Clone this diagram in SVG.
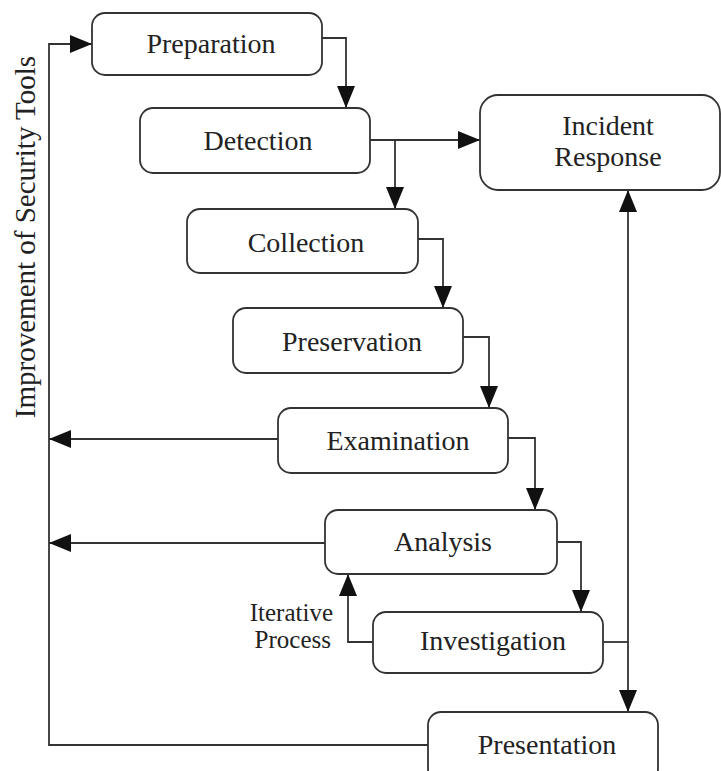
<svg xmlns="http://www.w3.org/2000/svg" width="721" height="771" viewBox="0 0 721 771">
<style>
.box{fill:#fff;stroke:#333;stroke-width:1.8}
.lbl{font-family:"Liberation Serif","Times New Roman",serif;font-size:28px;fill:#222;text-anchor:middle}
.note{font-family:"Liberation Serif","Times New Roman",serif;font-size:25px;fill:#222;text-anchor:end}
.side{font-family:"Liberation Serif","Times New Roman",serif;font-size:29px;fill:#222}
.c{fill:none;stroke:#333;stroke-width:1.8}
</style>
<defs>
<marker id="ah" markerUnits="userSpaceOnUse" markerWidth="22" markerHeight="18" refX="22" refY="9" orient="auto">
<path d="M0,0 L22,9 L0,18 Z" fill="#111"/>
</marker>
</defs>
<rect width="721" height="771" fill="#fff"/>
<g id="connectors">
<path class="c" d="M322,38 H346 V108" marker-end="url(#ah)"/>
<path class="c" d="M370,140 H480" marker-end="url(#ah)"/>
<path class="c" d="M395,140 V209" marker-end="url(#ah)"/>
<path class="c" d="M418,239 H443 V308" marker-end="url(#ah)"/>
<path class="c" d="M463,337 H489 V408" marker-end="url(#ah)"/>
<path class="c" d="M508,438 H535 V510" marker-end="url(#ah)"/>
<path class="c" d="M557,542 H581 V612" marker-end="url(#ah)"/>
<path class="c" d="M373,642 H348 V574" marker-end="url(#ah)"/>
<path class="c" d="M603,642 H628"/>
<path class="c" d="M628,642 V190" marker-end="url(#ah)"/>
<path class="c" d="M628,642 V712" marker-end="url(#ah)"/>
<path class="c" d="M278,439 H49" marker-end="url(#ah)"/>
<path class="c" d="M325,543 H49" marker-end="url(#ah)"/>
<path class="c" d="M428,745 H49 V44 H92" marker-end="url(#ah)"/>
</g>
<g id="preparation"><rect class="box" x="92" y="13" width="230" height="62" rx="13"/><text class="lbl" x="211" y="53">Preparation</text></g>
<g id="detection"><rect class="box" x="140" y="108" width="230" height="65" rx="13"/><text class="lbl" x="258" y="150">Detection</text></g>
<g id="incident-response"><rect class="box" x="480" y="95" width="240" height="95" rx="18"/><text class="lbl" x="608" y="135">Incident</text><text class="lbl" x="608" y="166">Response</text></g>
<g id="collection"><rect class="box" x="187" y="209" width="231" height="64" rx="13"/><text class="lbl" x="306" y="252">Collection</text></g>
<g id="preservation"><rect class="box" x="233" y="308" width="230" height="65" rx="13"/><text class="lbl" x="352" y="351">Preservation</text></g>
<g id="examination"><rect class="box" x="278" y="408" width="230" height="65" rx="13"/><text class="lbl" x="398" y="450">Examination</text></g>
<g id="analysis"><rect class="box" x="325" y="510" width="232" height="64" rx="13"/><text class="lbl" x="443" y="551">Analysis</text></g>
<g id="investigation"><rect class="box" x="373" y="612" width="230" height="61" rx="13"/><text class="lbl" x="493" y="650">Investigation</text></g>
<g id="presentation"><rect class="box" x="428" y="712" width="230" height="70" rx="13"/><text class="lbl" x="547" y="754">Presentation</text></g>
<g id="iterative-label"><text class="note" x="333" y="621">Iterative</text><text class="note" x="331" y="648">Process</text></g>
<g id="side-label"><text class="side" text-anchor="middle" transform="translate(35,237) rotate(-90)">Improvement of Security Tools</text></g>
</svg>
